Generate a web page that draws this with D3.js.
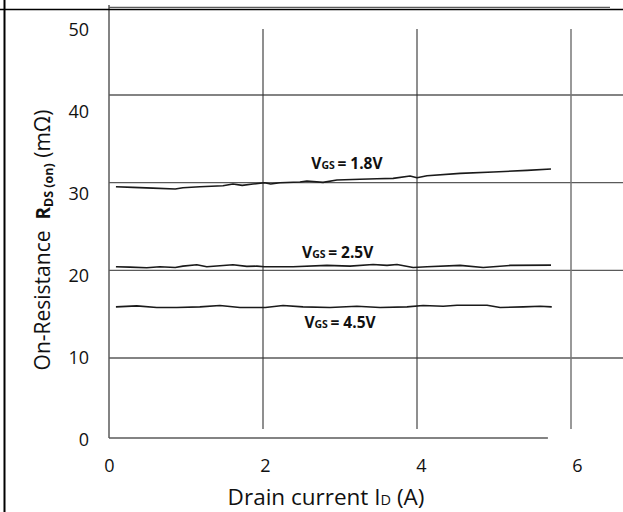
<!DOCTYPE html>
<html>
<head>
<meta charset="utf-8">
<script src="https://cdn.jsdelivr.net/npm/d3@7"></script>
<style>
	html, body { margin: 0; padding: 0; background: #fff; }
	svg { display: block; font-family: "Open Sans", sans-serif; }
</style>
</head>
<body>
<svg width="623" height="512"></svg>
<script>
// values (Id in A, Rds(on) in mOhm)
const id18 = [0.09, 0.31, 0.57, 0.86, 0.96, 1.18, 1.48, 1.61, 1.73, 1.87, 2.02, 2.1, 2.22, 2.48, 2.57, 2.78, 2.96, 3.26, 3.48, 3.69, 3.91, 4.0, 4.13, 4.56, 4.99, 5.43, 5.74];
const rds18 = [29.53, 29.46, 29.38, 29.27, 29.42, 29.53, 29.65, 29.84, 29.69, 29.84, 29.99, 29.84, 29.99, 30.07, 30.18, 30.03, 30.3, 30.38, 30.45, 30.49, 30.75, 30.56, 30.79, 31.06, 31.21, 31.4, 31.55];

const id25 = [0.09, 0.27, 0.49, 0.66, 0.86, 0.96, 1.14, 1.27, 1.61, 1.79, 1.92, 2.02, 2.39, 2.83, 3.13, 3.43, 3.61, 3.74, 3.95, 4.13, 4.56, 4.86, 5.21, 5.74];
const rds25 = [20.4, 20.37, 20.29, 20.4, 20.33, 20.48, 20.63, 20.4, 20.63, 20.45, 20.48, 20.4, 20.4, 20.56, 20.48, 20.67, 20.56, 20.67, 20.33, 20.4, 20.56, 20.33, 20.56, 20.59];

const id45 = [0.09, 0.36, 0.62, 0.88, 1.18, 1.44, 1.7, 2.03, 2.26, 2.52, 2.87, 3.22, 3.52, 3.87, 4.08, 4.34, 4.52, 4.91, 5.08, 5.38, 5.6, 5.75];
const rds45 = [15.83, 15.94, 15.76, 15.76, 15.83, 15.99, 15.76, 15.76, 15.99, 15.83, 15.76, 15.91, 15.76, 15.83, 15.99, 15.91, 16.02, 16.02, 15.76, 15.83, 15.91, 15.83];

const vgsValues = ["1.8V", "2.5V", "4.5V"];
const xTicks = [0, 2, 4, 6];
const yTicks = [0, 10, 20, 30, 40, 50];

const svg = d3.select("svg");

// grid scales (the scanned grid is not quite even, so y is piecewise)
const x = d3.scaleLinear().domain([0, 6]).range([109, 571]);
const y = d3.scaleLinear().domain([0, 10, 50]).range([438, 358, 7.3]);
// tick label scales sit slightly off the grid in the original
const xLab = d3.scaleLinear().domain([0, 6]).range([109, 577]);
const yLab = d3.scaleLinear().domain([0, 50]).range([439, 29]);

const grid = svg.append("g").attr("class", "grid");

// horizontal grid lines
grid.selectAll("line.h")
	.data(yTicks.filter(d => d > 0))
	.join("line")
	.attr("class", "h")
	.attr("x1", x(0))
	.attr("x2", d => d === 50 ? 610 : 623)
	.attr("y1", d => y(d))
	.attr("y2", d => y(d))
	.attr("stroke", "#5a5a5a")
	.attr("stroke-width", 1.3);

// vertical grid lines
grid.selectAll("line.v")
	.data(xTicks.filter(d => d > 0))
	.join("line")
	.attr("class", "v")
	.attr("x1", d => x(d))
	.attr("x2", d => x(d))
	.attr("y1", 29)
	.attr("y2", 429)
	.attr("stroke", d => d === 6 ? "#777" : "#333")
	.attr("stroke-width", d => d === 6 ? 1.5 : 1.1);

// axis lines
grid.append("line")
	.attr("x1", x(0)).attr("x2", x(0))
	.attr("y1", 5).attr("y2", y(0))
	.attr("stroke", "#5a5a5a").attr("stroke-width", 1.5);
grid.append("line")
	.attr("x1", x(0)).attr("x2", x(5.7))
	.attr("y1", y(0)).attr("y2", y(0))
	.attr("stroke", "#5a5a5a").attr("stroke-width", 1.5);

// frame of the scanned figure
svg.append("line")
	.attr("x1", 0).attr("x2", 623).attr("y1", 9.5).attr("y2", 9.5)
	.attr("stroke", "#000").attr("stroke-width", 1.6);
svg.append("line")
	.attr("x1", 4.5).attr("x2", 4.5).attr("y1", 0).attr("y2", 512)
	.attr("stroke", "#000").attr("stroke-width", 2);

// tick labels through d3 axes, no domain or tick marks
const yAxis = svg.append("g")
	.attr("transform", "translate(109,0)")
	.call(d3.axisLeft(yLab).tickValues(yTicks).tickFormat(d3.format("d")).tickSize(0).tickPadding(20));
const xAxis = svg.append("g")
	.attr("transform", "translate(0,472)")
	.call(d3.axisBottom(xLab).tickValues(xTicks).tickFormat(d3.format("d")).tickSize(0).tickPadding(0));
[yAxis, xAxis].forEach(a => {
	a.select(".domain").remove();
	a.selectAll("text")
		.attr("font-family", "'Open Sans', sans-serif")
		.attr("font-size", 18)
		.attr("fill", "#111");
});
yAxis.selectAll("text").attr("dy", "0.36em");
xAxis.selectAll("text").attr("y", 0).attr("dy", 0);

// curves
const series = [
	{ vgs: vgsValues[0], xs: id18, ys: rds18 },
	{ vgs: vgsValues[1], xs: id25, ys: rds25 },
	{ vgs: vgsValues[2], xs: id45, ys: rds45 }
];

const line = d3.line()
	.x(d => x(d[0]))
	.y(d => y(d[1]))
	.curve(d3.curveLinear);

svg.append("g")
	.selectAll("path")
	.data(series)
	.join("path")
	.attr("d", s => line(d3.zip(s.xs, s.ys)))
	.attr("fill", "none")
	.attr("stroke", "#1a1a1a")
	.attr("stroke-width", 1.6)
	.attr("stroke-linejoin", "round");

// curve labels, anchored in data units
const labelAt = [[3.09, 31.5], [2.97, 21.45], [3.0, 13.45]];
const lbl = svg.append("g")
	.selectAll("text")
	.data(series)
	.join("text")
	.attr("x", (s, i) => x(labelAt[i][0]))
	.attr("y", (s, i) => y(labelAt[i][1]))
	.attr("text-anchor", "middle")
	.attr("font-weight", "bold")
	.attr("font-size", 15.5)
	.attr("fill", "#111");
lbl.append("tspan").text("V");
lbl.append("tspan").attr("font-size", 10.5).text("GS");
lbl.append("tspan").text(s => "\u2009= " + s.vgs);

// y axis title
const yTitle = svg.append("text")
	.attr("transform", "translate(50,240) rotate(-90)")
	.attr("text-anchor", "middle")
	.attr("font-size", 21)
	.attr("fill", "#111");
yTitle.append("tspan").text("On-Resistance\u00a0\u00a0");
yTitle.append("tspan").attr("font-weight", "bold").attr("font-size", 19).text("R");
yTitle.append("tspan").attr("font-weight", "bold").attr("font-size", 12.5).attr("dy", 3).text("DS (on)");
yTitle.append("tspan").attr("dy", -3).text(" (mΩ)");

// x axis title
const xTitle = svg.append("text")
	.attr("x", 326)
	.attr("y", 505)
	.attr("text-anchor", "middle")
	.attr("font-size", 22.5)
	.attr("fill", "#111");
xTitle.append("tspan").text("Drain current I");
xTitle.append("tspan").attr("font-size", 14.5).text("D");
xTitle.append("tspan").text(" (A)");
</script>
</body>
</html>
